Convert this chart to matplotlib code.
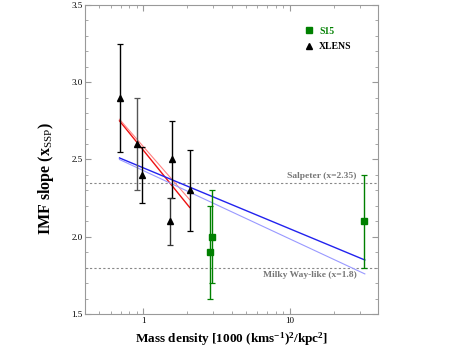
import numpy as np
import matplotlib
matplotlib.use("Agg")
import matplotlib.pyplot as plt
from matplotlib.lines import Line2D
from matplotlib.ticker import FixedLocator, NullFormatter, FixedFormatter

# XLENS points
xlens_x = [0.687, 0.91, 0.974, 1.57, 1.51, 2.07]
xlens_y = [2.90, 2.60, 2.40, 2.50, 2.10, 2.30]
xlens_err = [0.35, 0.30, 0.18, 0.25, 0.15, 0.26]

# S15 points
s15_x = [2.84, 2.93, 32.0]
s15_y = [1.90, 2.00, 2.10]
s15_err = [0.30, 0.30, 0.30]

# fitted relations (endpoints)
red_x = [0.687, 2.07]
red_y1 = [2.75, 2.19]
red_y2 = [2.76, 2.24]
blue_x = [0.687, 32.5]
blue_y1 = [2.51, 1.85]
blue_y2 = [2.50, 1.76]

salpeter = 2.35
milkyway = 1.8

plt.rcParams["font.family"] = ["Liberation Serif", "DejaVu Serif"]
plt.rcParams["mathtext.fontset"] = "custom"
plt.rcParams["mathtext.rm"] = "Liberation Serif"
plt.rcParams["mathtext.bf"] = "Liberation Serif:bold"
plt.rcParams["mathtext.it"] = "Liberation Serif:italic"

fig = plt.figure(figsize=(4.65, 3.49), dpi=100)
ax = fig.add_axes([0.183, 0.100, 0.630, 0.886])

ax.axhline(salpeter, color="#888888", ls=(0, (2, 2)), lw=0.8)
ax.axhline(milkyway, color="#888888", ls=(0, (2, 2)), lw=0.8)
ax.text(28.6, salpeter + 0.02, "Salpeter (x=2.35)", ha="right", va="bottom",
        fontsize=6.8, color="#777777", fontweight="bold")
ax.text(28.6, milkyway - 0.02, "Milky Way-like (x=1.8)", ha="right", va="top",
        fontsize=6.8, color="#777777", fontweight="bold")

ax.plot(red_x, red_y1, color="#ee1111", lw=1.0)
ax.plot(red_x, red_y2, color="#ff8080", lw=0.8)
ax.plot(blue_x, blue_y1, color="#2222ee", lw=1.0)
ax.plot(blue_x, blue_y2, color="#9999ff", lw=0.8)

bar_cols = ["black", "#555555", "black", "black", "#333333", "black"]
for x, y, e, c in zip(xlens_x, xlens_y, xlens_err, bar_cols):
    ax.errorbar(x, y, yerr=e, fmt="^", color="black", ecolor=c, ms=5,
                capsize=2.5, elinewidth=1.0, capthick=0.9)
ax.errorbar(s15_x, s15_y, yerr=s15_err, fmt="s", color="#008000",
            ms=4.5, capsize=2.5, elinewidth=1.0, capthick=0.9)

ax.set_xscale("log")
ax.set_xlim(0.4, 40)
ax.set_ylim(1.5, 3.5)

ax.xaxis.set_major_locator(FixedLocator([1, 10]))
ax.xaxis.set_major_formatter(FixedFormatter(["1", "10"]))
minors = [0.4, 0.5, 0.6, 0.7, 0.8, 0.9, 2, 3, 4, 5, 6, 7, 8, 9, 20, 30]
ax.xaxis.set_minor_locator(FixedLocator(minors))
ax.xaxis.set_minor_formatter(NullFormatter())
ax.set_yticks([1.5, 2.0, 2.5, 3.0, 3.5])
ax.set_yticklabels(["1.5", "2.0", "2.5", "3.0", "3.5"])
ax.set_yticks(np.arange(1.5, 3.5, 0.1), minor=True)

ax.tick_params(which="both", direction="in", top=True, right=True,
               color="#999999", labelsize=6.5, pad=2)
ax.tick_params(which="major", length=4)
ax.tick_params(which="minor", length=2.2)
for s in ax.spines.values():
    s.set_color("#999999")
    s.set_linewidth(0.8)

ax.set_xlabel(r"Mass density [1000 (kms$^{\mathbf{-1}}$)$^{\mathbf{2}}$/kpc$^{\mathbf{2}}$]",
              fontsize=9.5, fontweight="bold", labelpad=4)
ax.set_ylabel(r"IMF slope (x$_{\mathrm{SSP}}$)", fontsize=11.5,
              fontweight="bold")
ax.yaxis.set_label_coords(-0.10, 0.44)

handles = [Line2D([], [], marker="s", color="#008000", ls="none", ms=5),
           Line2D([], [], marker="^", color="black", ls="none", ms=5)]
leg = ax.legend(handles, ["S15", "XLENS"], loc="upper right",
                bbox_to_anchor=(0.94, 0.958), frameon=False,
                handletextpad=0.4, labelspacing=0.7, handlelength=1.2,
                labelcolor=["#008000", "black"], prop={"weight": "bold", "size": 7})

fig.savefig("out.png", dpi=100)
